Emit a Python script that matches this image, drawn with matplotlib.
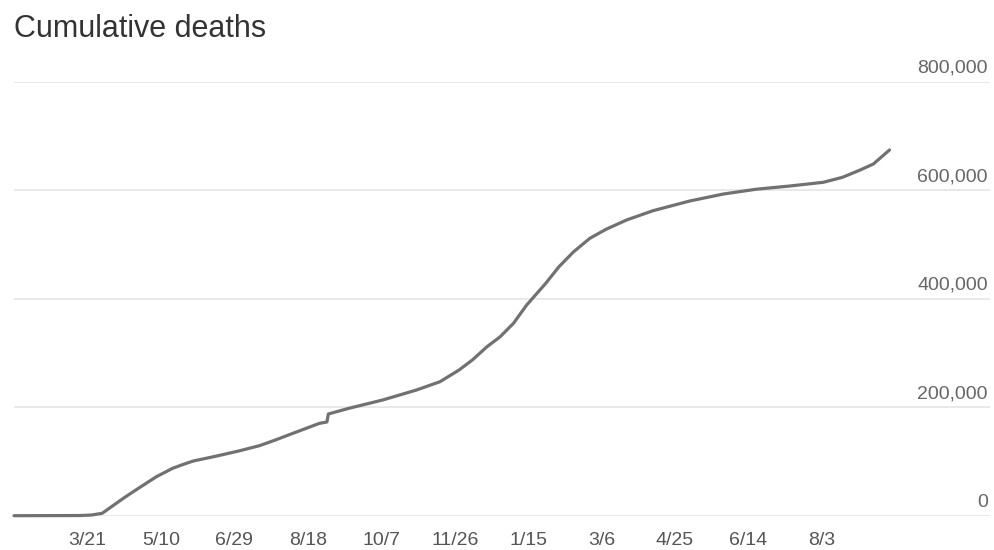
import datetime as dt
import matplotlib
matplotlib.use("Agg")
import matplotlib.pyplot as plt

# Data (US cumulative deaths)
dates = ["2020-01-31", "2020-03-16", "2020-03-24", "2020-03-31", "2020-04-16",
         "2020-04-25", "2020-05-07", "2020-05-18", "2020-05-26", "2020-06-01",
         "2020-06-17", "2020-07-02", "2020-07-16", "2020-07-27", "2020-08-08",
         "2020-08-26", "2020-08-31", "2020-09-01", "2020-09-15", "2020-10-08",
         "2020-10-31", "2020-11-16", "2020-11-29", "2020-12-08", "2020-12-18",
         "2020-12-27", "2021-01-05", "2021-01-14", "2021-01-27", "2021-02-05",
         "2021-02-15", "2021-02-26", "2021-03-09", "2021-03-23", "2021-04-10",
         "2021-05-05", "2021-05-28", "2021-06-19", "2021-07-12", "2021-08-04",
         "2021-08-17", "2021-08-29", "2021-09-07", "2021-09-18"]
deaths = [0, 300, 1300, 4400, 35000,
          51000, 72000, 87400, 95300, 100800,
          110000, 119300, 129000, 139600, 152000,
          170300, 172700, 187500, 198000, 213300,
          231700, 247000, 268600, 287000, 311500,
          330000, 354600, 388400, 428400, 459000,
          486600, 511300, 527900, 545100, 562200,
          580100, 593000, 601700, 607700, 614600,
          623800, 637200, 648300, 674100]

y_ticks = [0, 200000, 400000, 600000, 800000]
tick_step_days = 50

title = "Cumulative deaths"

x = [dt.datetime.strptime(d, "%Y-%m-%d") for d in dates]
start = x[0]

plt.rcParams['font.family'] = ['Liberation Sans', 'DejaVu Sans']

fig = plt.figure(figsize=(9.94, 5.5), dpi=100)
ax = fig.add_axes([14/994, (550-515.7)/550, 976/994, 434/550])

ax.plot(x, deaths, color='#717171', lw=2.3, solid_capstyle='round',
        solid_joinstyle='round', clip_on=False, zorder=3)

ax.set_xlim(start, start + dt.timedelta(days=664.4))
ax.set_ylim(0, 800000)

# x ticks every 50 days from the start, first one hidden
xt = [start + dt.timedelta(days=tick_step_days * k) for k in range(1, 12)]
ax.set_xticks(xt)
ax.set_xticklabels([f"{d.month}/{d.day}" for d in xt], fontsize=14, color='#555555')
ax.tick_params(axis='x', length=0, pad=11.5)

# y grid + labels inside on the right
ax.set_yticks(y_ticks)
ax.set_yticklabels([])
ax.tick_params(axis='y', length=0)
ax.grid(axis='y', color='#e5e5e5', lw=1.2)
ax.set_axisbelow(True)
for v in y_ticks:
    ax.annotate(f"{v:,}", xy=(1.0, v), xycoords=ax.get_yaxis_transform(),
                xytext=(-2, 9), textcoords='offset pixels', ha='right',
                va='baseline', fontsize=14, color='#666666')

for s in ax.spines.values():
    s.set_visible(False)

fig.text(14/994, 1 - 37/550, title, fontsize=22, color='#333333', va='baseline')

fig.savefig("out.png", dpi=100)
